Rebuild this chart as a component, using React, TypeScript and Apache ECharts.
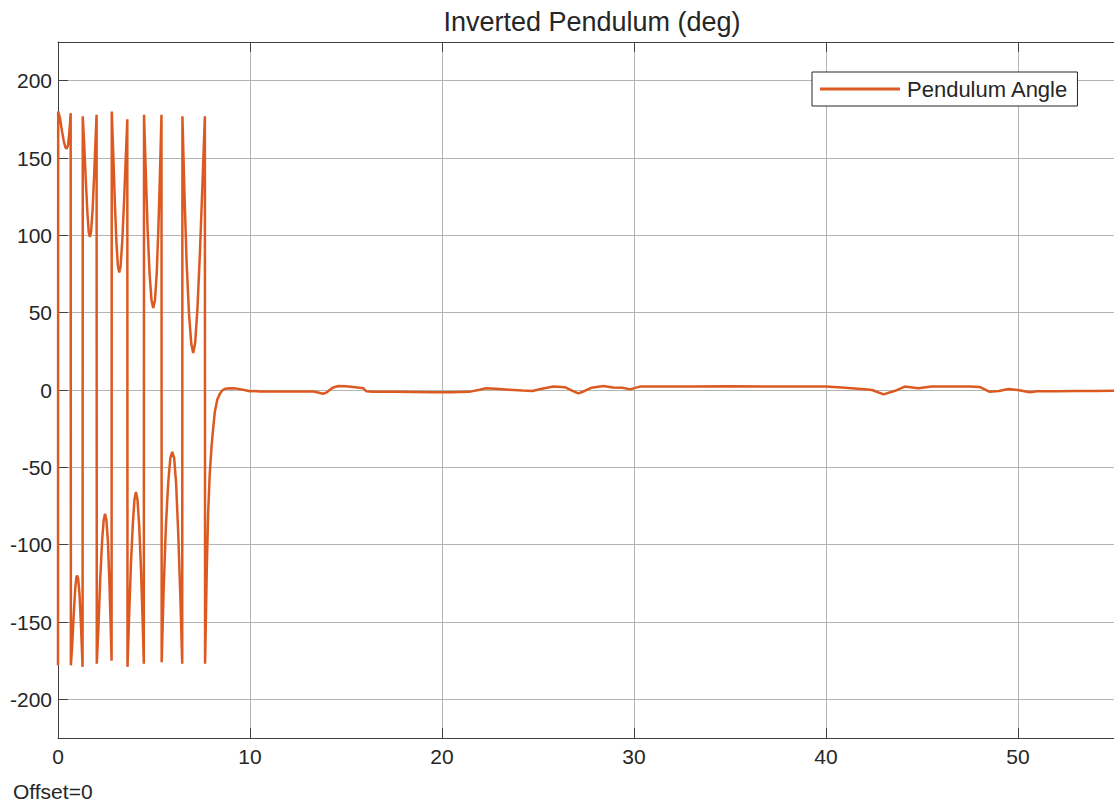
import React, { useEffect, useRef } from "react";
import * as echarts from "echarts";

const titleText = "Inverted Pendulum (deg)";
const seriesName = "Pendulum Angle";
const offsetText = "Offset=0";

// time (s)
const timeS: number[] = [
  0, 0.01,
  0.1, 0.2, 0.3, 0.38, 0.45, 0.52, 0.58, 0.63, 0.66,
  0.67, 0.74, 0.82, 0.9, 0.96, 1.0, 1.05, 1.12, 1.2, 1.28,
  1.29, 1.36, 1.45, 1.53, 1.6, 1.66, 1.72, 1.8, 1.88, 1.95, 2.01,
  2.02, 2.1, 2.2, 2.3, 2.38, 2.45, 2.52, 2.6, 2.68, 2.74, 2.79,
  2.8, 2.88, 2.97, 3.05, 3.12, 3.19, 3.26, 3.35, 3.44, 3.53, 3.61,
  3.62, 3.7, 3.8, 3.9, 3.98, 4.06, 4.14, 4.23, 4.32, 4.4, 4.47,
  4.48, 4.57, 4.67, 4.77, 4.87, 4.96, 5.05, 5.14, 5.23, 5.31, 5.39,
  5.4, 5.5, 5.62, 5.74, 5.85, 5.95, 6.05, 6.15, 6.26, 6.37, 6.47,
  6.48, 6.58, 6.7, 6.82, 6.94, 7.04, 7.14, 7.26, 7.39, 7.52, 7.65,
  7.66, 7.7, 7.75, 7.82, 7.9, 8.0, 8.08, 8.17, 8.3, 8.43, 8.55, 8.7, 8.95, 9.3, 9.7, 10.0, 10.3,
  10.5, 11.5, 12.5, 13.3, 13.6, 13.8, 14.0, 14.3, 14.6, 15.0, 15.5, 15.9, 16.05, 16.4,
  17.5, 18.5, 19.5, 20.5, 21.4, 21.96, 22.3, 22.8, 23.5, 24.2, 24.7, 25.2, 25.8, 26.4,
  26.8, 27.1, 27.4, 27.8, 28.4, 28.9, 29.4, 29.8, 30.3, 31, 33, 35, 37, 39, 40, 41, 42,
  42.4, 43, 43.6, 44.1, 44.8, 45.5, 46.5, 47.5, 48, 48.5, 49, 49.5, 50, 50.6, 51, 52, 53, 54, 55,
];

// pendulum angle (deg)
const angleDeg: number[] = [
  -178, 180,
  176, 168, 161, 157, 156, 158, 165, 173, 179,
  -178, -165, -145, -128, -121, -120, -122, -132, -153, -179,
  177, 160, 135, 115, 102, 99, 102, 116, 138, 160, 178,
  -177, -155, -122, -97, -84, -80, -84, -98, -125, -150, -175,
  180, 152, 118, 94, 80, 76, 80, 97, 122, 150, 175,
  -179, -148, -112, -86, -71, -66, -71, -88, -115, -146, -177,
  178, 142, 103, 75, 58, 53, 58, 75, 105, 140, 178,
  -176, -130, -88, -60, -44, -40, -44, -60, -92, -133, -177,
  177, 130, 82, 50, 30, 24, 30, 52, 88, 132, 177,
  -177, -150, -115, -80, -55, -36, -25, -14, -6, -2.5, -0.3, 0.8, 1.1, 0.9, 0, -0.8, -0.7,
  -1, -1, -1, -1, -1.8, -2.4, -1.5, 1.5, 2.6, 2.5, 1.8, 1.2, -0.8, -1.1,
  -1.2, -1.3, -1.4, -1.4, -1.2, 0.2, 1.1, 0.8, 0.2, -0.4, -0.6, 0.8, 2.2, 1.8,
  -0.5, -2.2, -0.8, 1.5, 2.6, 1.6, 1.4, 0.4, 2.2, 2.3, 2.3, 2.4, 2.3, 2.3, 2.2, 1.5, 0.5,
  0, -2.8, -0.5, 2.2, 1.1, 2.2, 2.3, 2.3, 2.0, -1.1, -0.6, 0.6, 0, -1.5, -0.8, -0.8, -0.7, -0.6, -0.5,
];

const xMin = 0;
const xMax = 55;
const yMin = -225;
const yMax = 225;

const FONT = "'Liberation Sans', Arial, Helvetica, sans-serif";
const TEXT = "#262626";
const AXIS = "#404040";
const GRID = "#b4b4b4";
const LINE = "#dc5a22";

export default function App() {
  const ref = useRef<HTMLDivElement>(null);

  useEffect(() => {
    if (!ref.current) return;
    const chart = echarts.init(ref.current, null, { renderer: "svg" });
    const data = timeS.map((t, i) => [t, angleDeg[i]]);
    chart.setOption({
      animation: false,
      backgroundColor: "#ffffff",
      textStyle: { fontFamily: FONT },
      grid: { left: 58, top: 42, right: -1, bottom: 66, containLabel: false },
      legend: {
        show: true,
        data: [seriesName],
        left: 812,
        top: 72,
        orient: "horizontal",
        icon: "rect",
        itemWidth: 80,
        itemHeight: 3,
        itemGap: 6,
        padding: [6, 9, 6, 8],
        borderColor: TEXT,
        borderWidth: 1,
        borderRadius: 0,
        backgroundColor: "#ffffff",
        textStyle: { fontSize: 22, color: TEXT, fontFamily: FONT, padding: [0, 0, 0, 2] },
        selectedMode: false,
      },
      graphic: [
        {
          type: "text",
          x: 592,
          y: 22,
          style: {
            text: titleText,
            fill: TEXT,
            font: `27px ${FONT}`,
            textAlign: "center",
            textVerticalAlign: "middle",
          },
        },
        {
          type: "text",
          x: 13,
          y: 791,
          style: {
            text: offsetText,
            fill: TEXT,
            font: `21px ${FONT}`,
            textAlign: "left",
            textVerticalAlign: "middle",
          },
        },
      ],
      xAxis: [
        {
          type: "value",
          min: xMin,
          max: xMax,
          interval: 10,
          position: "bottom",
          axisLine: { show: true, onZero: false, lineStyle: { color: AXIS, width: 1 } },
          axisTick: { show: true, inside: true, length: 10, lineStyle: { color: AXIS } },
          axisLabel: { show: true, fontSize: 21, color: TEXT, margin: 8, showMaxLabel: false, fontFamily: FONT },
          splitLine: { show: true, lineStyle: { color: GRID, width: 1 } },
        },
        {
          type: "value",
          min: xMin,
          max: xMax,
          interval: 10,
          position: "top",
          axisLine: { show: true, onZero: false, lineStyle: { color: AXIS, width: 1 } },
          axisTick: { show: true, inside: true, length: 10, lineStyle: { color: AXIS } },
          axisLabel: { show: false },
          splitLine: { show: false },
        },
      ],
      yAxis: {
        type: "value",
        min: yMin,
        max: yMax,
        splitNumber: 9,
        axisLine: { show: true, onZero: false, lineStyle: { color: AXIS, width: 1 } },
        axisTick: { show: true, inside: true, length: 10, lineStyle: { color: AXIS } },
        axisLabel: {
          show: true,
          fontSize: 21,
          color: TEXT,
          margin: 6,
          showMinLabel: false,
          showMaxLabel: false,
          fontFamily: FONT,
        },
        splitLine: { show: true, lineStyle: { color: GRID, width: 1 } },
      },
      series: [
        {
          name: seriesName,
          type: "line",
          xAxisIndex: 0,
          data,
          showSymbol: false,
          symbol: "none",
          color: LINE,
          lineStyle: { color: LINE, width: 2.5 },
          z: 3,
        },
      ],
    });
    return () => chart.dispose();
  }, []);

  return (
    <div
      ref={ref}
      style={{ position: "absolute", left: 0, top: 0, width: 1114, height: 804, background: "#fff" }}
    />
  );
}
